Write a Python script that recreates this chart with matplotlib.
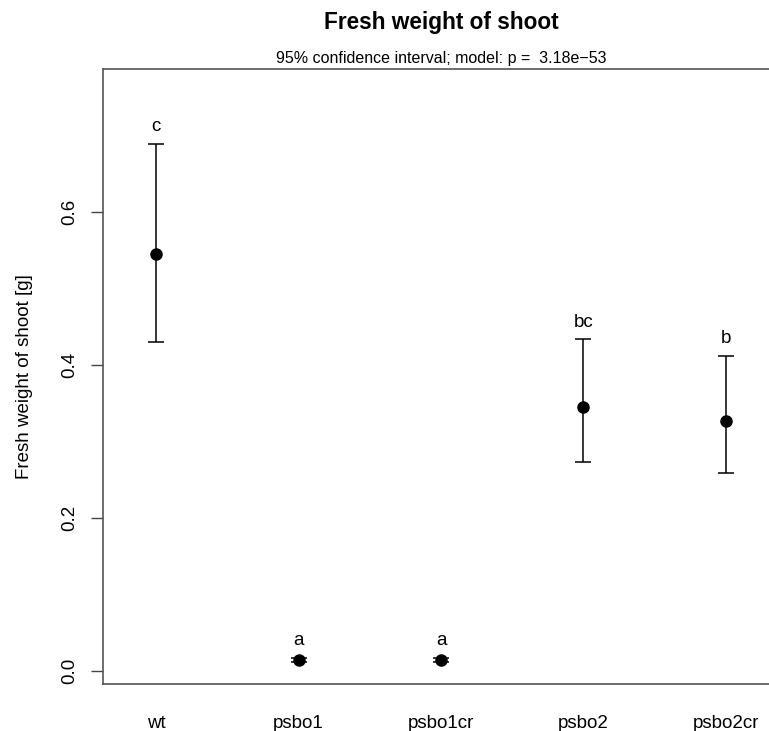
import matplotlib
matplotlib.use("Agg")
import matplotlib.pyplot as plt

plt.rcParams['font.family'] = ['Liberation Sans', 'DejaVu Sans']

# Group means and 95% CI
groups = ["wt", "psbo1", "psbo1cr", "psbo2", "psbo2cr"]
means = [0.545, 0.014, 0.014, 0.345, 0.327]
lower = [0.430, 0.011, 0.011, 0.273, 0.258]
upper = [0.688, 0.017, 0.017, 0.433, 0.411]
letters = ["c", "a", "a", "bc", "b"]
yticks = [0.0, 0.2, 0.4, 0.6]

fig = plt.figure(figsize=(7.69, 7.31), dpi=100)
# the box runs past the right edge of the picture, as in the original
ax = fig.add_axes([103 / 769, 47 / 731, 676 / 769, 615 / 731])

pos = list(range(1, len(groups) + 1))
err = [[m - lo for m, lo in zip(means, lower)],
       [up - m for m, up in zip(means, upper)]]
ax.errorbar(pos, means, yerr=err, fmt='o', color='black', ms=8,
            elinewidth=1.1, capsize=6, capthick=1.1)

for x, up, lab in zip(pos, upper, letters):
    ax.annotate(lab, (x, up), xytext=(0, 12.5), textcoords='offset points',
                ha='center', va='center', fontsize=13.5)

ax.set_xlim(0.628, 5.372)
ax.set_ylim(-0.0174, 0.7865)
ax.set_xticks(pos)
ax.set_xticklabels(groups, fontsize=13.5)
ax.tick_params(axis='x', length=0, pad=22)
ax.set_yticks(yticks)
ax.set_yticklabels(["%.1f" % t for t in yticks], rotation=90, va='center',
                   fontsize=13.5)
ax.tick_params(axis='y', length=9, width=1, color='#444444', pad=9)
for s in ax.spines.values():
    s.set_color('#555555')
    s.set_linewidth(1.2)

ax.set_ylabel("Fresh weight of shoot [g]", fontsize=13.5, labelpad=20)

fig.text(441 / 769, 1 - 22 / 731, "Fresh weight of shoot", ha='center',
         va='center', fontsize=16.3, fontweight='bold')
fig.text(441 / 769, 1 - 59 / 731,
         "95% confidence interval; model: p =  3.18e\u221253",
         ha='center', va='center', fontsize=11.5)

plt.savefig('out.png', dpi=100)
